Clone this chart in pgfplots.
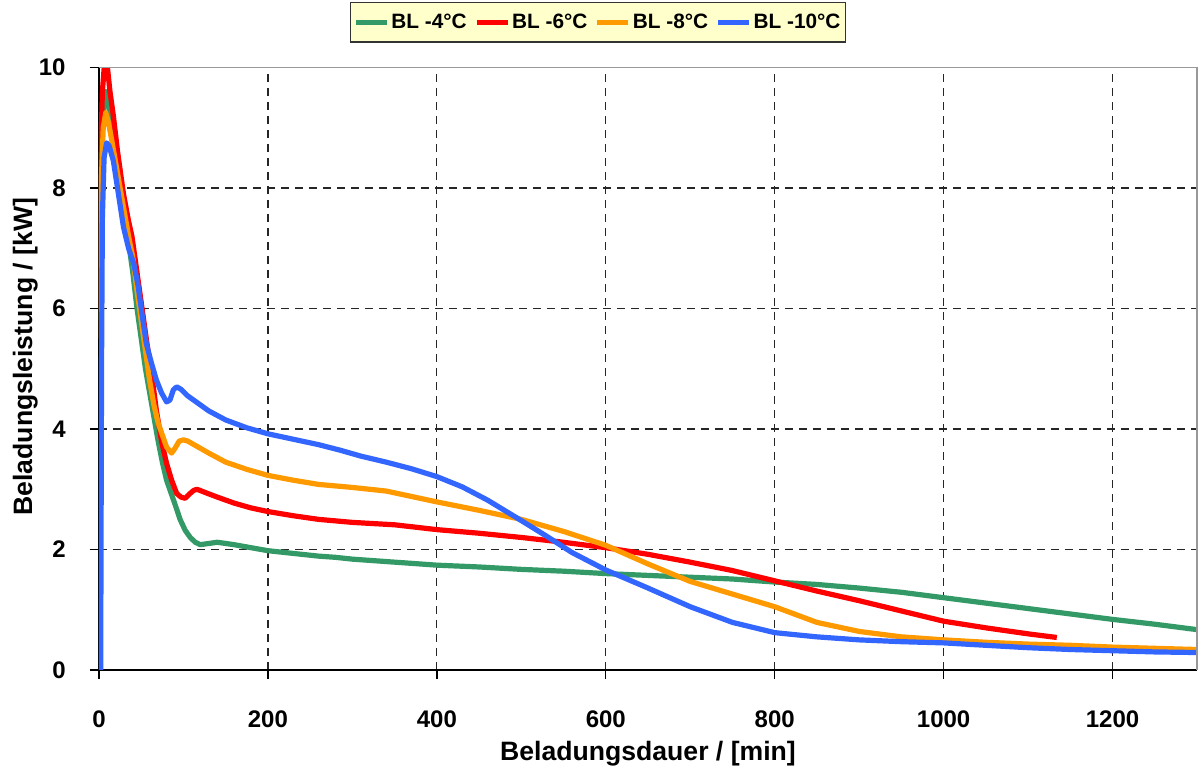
\documentclass[border=0pt]{standalone}
\usepackage{fontspec}
\setmainfont{Liberation Sans}
\usepackage{pgfplots}
\pgfplotsset{compat=1.18}
\definecolor{cgreen}{HTML}{339966}
\definecolor{cred}{HTML}{FF0000}
\definecolor{corange}{HTML}{FF9900}
\definecolor{cblue}{HTML}{3366FF}
\definecolor{legbg}{HTML}{FFFFCC}

\pgfplotstableread{
x y
0 5.8
2 8.2
5 9.3
8 9.6
11 9.4
15 9.0
20 8.5
25 8.0
30 7.6
35 7.1
40 6.6
45 6.0
50 5.5
55 5.0
60 4.6
65 4.2
70 3.8
75 3.45
80 3.15
85 2.95
90 2.75
96 2.5
102 2.32
108 2.2
114 2.12
120 2.08
130 2.1
140 2.12
150 2.1
160 2.08
180 2.03
200 1.98
220 1.95
240 1.92
260 1.89
280 1.87
300 1.84
330 1.81
360 1.78
400 1.74
450 1.71
500 1.67
550 1.64
600 1.60
650 1.57
700 1.54
750 1.51
800 1.46
850 1.42
900 1.36
950 1.29
1000 1.20
1050 1.11
1100 1.02
1150 0.93
1200 0.84
1250 0.76
1300 0.67
}\tgreen

\pgfplotstableread{
x y
0 6.0
2 8.5
4 9.6
7 10.15
10 10.0
13 9.6
17 9.2
22 8.6
29 7.9
35 7.45
39 7.2
46 6.5
52 5.9
57 5.4
62 4.95
68 4.3
74 3.8
80 3.43
86 3.15
92 2.93
97 2.87
102 2.85
107 2.92
112 2.98
116 3.0
125 2.95
140 2.87
160 2.77
180 2.69
200 2.63
230 2.56
260 2.5
300 2.45
350 2.41
400 2.33
450 2.27
500 2.2
550 2.12
600 2.03
650 1.92
700 1.79
750 1.65
800 1.48
850 1.31
900 1.15
950 0.98
1000 0.81
1050 0.70
1100 0.60
1134 0.54
}\tred

\pgfplotstableread{
x y
0 5.5
2 7.8
5 9.0
8 9.25
11 9.1
15 8.8
20 8.4
25 8.0
30 7.6
35 7.2
40 6.85
45 6.3
50 5.8
55 5.3
60 4.8
65 4.4
70 4.1
75 3.9
80 3.7
86 3.6
90 3.68
95 3.8
100 3.82
105 3.8
115 3.72
130 3.6
150 3.45
175 3.33
200 3.23
230 3.15
260 3.08
300 3.03
340 2.97
380 2.85
400 2.79
450 2.65
500 2.5
550 2.3
600 2.07
650 1.76
700 1.47
750 1.26
800 1.05
850 0.79
900 0.64
950 0.55
1000 0.50
1050 0.46
1100 0.43
1150 0.41
1200 0.38
1250 0.36
1300 0.34
}\torange

\pgfplotstableread{
x y
2 0
3 5
4 7.5
6 8.5
9 8.75
12 8.7
17 8.45
23 7.9
29 7.35
35 7.0
41 6.75
46 6.4
51 5.9
56 5.42
62 5.1
68 4.81
74 4.6
80 4.45
84 4.48
88 4.65
92 4.7
97 4.66
105 4.55
115 4.45
130 4.3
150 4.15
175 4.02
200 3.92
230 3.83
260 3.74
285 3.65
310 3.55
340 3.45
370 3.34
400 3.21
430 3.04
460 2.82
480 2.65
500 2.48
530 2.22
560 1.95
600 1.66
650 1.36
700 1.05
750 0.79
800 0.62
850 0.55
900 0.50
950 0.47
1000 0.45
1050 0.41
1100 0.37
1150 0.34
1200 0.32
1250 0.30
1300 0.29
}\tblue

\begin{document}
\begin{tikzpicture}
\begin{axis}[
  name=ax,
  scale only axis, width=549bp, height=301.25bp,
  xmin=0, xmax=1300, ymin=0, ymax=10,
  xtick={0,200,...,1200}, ytick={0,2,...,10},
  axis x line*=bottom, axis y line*=left,
  axis line style={-, black, line width=0.8bp},
  tick align=outside, major tick length=4.5bp,
  tick style={black, line width=0.7bp},
  xmajorgrids=true, ymajorgrids=false,
  extra y ticks={2,4,6,8}, extra y tick labels={},
  extra y tick style={ymajorgrids=true},
  grid style={black!85, line width=0.6bp, dash pattern=on 4bp off 3bp},
  /pgf/number format/assume math mode=true,
  /pgf/number format/1000 sep={},
  ticklabel style={font=\fontsize{12bp}{14bp}\selectfont\bfseries},
  xticklabel style={anchor=north, inner sep=0pt, yshift=-15.5bp},
  yticklabel style={anchor=east, inner sep=0pt, xshift=-12bp},
  xlabel={Beladungsdauer / [min]},
  ylabel={Beladungsleistung / [kW]},
  label style={font=\fontsize{13.3bp}{16bp}\selectfont\bfseries},
  xlabel style={at={(rel axis cs:0.5,-0.1394)}, anchor=center},
  ylabel style={at={(rel axis cs:-0.0671,0.52)}, anchor=center},
  legend columns=4,
  legend style={at={(0.4545,1)}, anchor=south, yshift=12.4bp,
    fill=legbg, draw=black!80, line width=0.6bp,
    font=\fontsize{10.4bp}{12bp}\selectfont\bfseries,
    inner xsep=1.5bp, inner ysep=3.5bp,
    nodes={inner xsep=1bp},
    /tikz/every odd column/.append style={column sep=0bp},
    /tikz/every even column/.append style={column sep=2.8bp}},
  legend image code/.code={\draw[#1, line width=2.4bp] (0bp,0bp) -- (15.5bp,0bp);},
  every axis plot/.append style={line width=2.6bp, line join=round},
]
\addplot[cgreen] table {\tgreen};
\addlegendentry{BL -4°C}
\addplot[cred] table {\tred};
\addlegendentry{BL -6°C}
\addplot[corange] table {\torange};
\addlegendentry{BL -8°C}
\addplot[cblue] table {\tblue};
\addlegendentry{BL -10°C}
\end{axis}
\draw[gray!80, line width=0.8bp] (ax.north west) -- (ax.north east) -- (ax.south east);
\pgfresetboundingbox
\path (ax.south west) ++(-49.5bp,-51bp) rectangle ++(599bp,386bp);
\end{tikzpicture}
\end{document}
